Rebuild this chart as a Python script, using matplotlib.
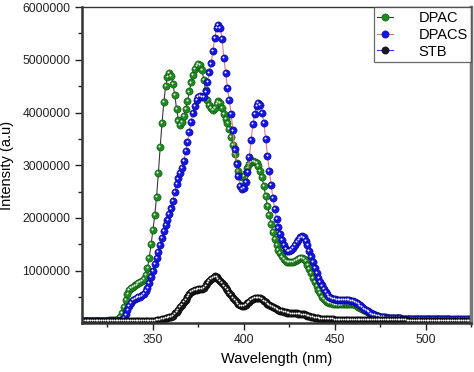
import numpy as np
import matplotlib
matplotlib.use("Agg")
import matplotlib.pyplot as plt
import matplotlib.transforms as mtransforms
from matplotlib.ticker import MultipleLocator, FixedLocator, FuncFormatter
from matplotlib.legend_handler import HandlerTuple
from matplotlib.lines import Line2D

plt.rcParams['font.family'] = ['Liberation Sans', 'DejaVu Sans']

wavelength = list(range(310, 526))

# intensities in millions (a.u.)
dpac = [
    0.05,0.05,0.05,0.05,0.05,0.05,0.05,0.05,0.05,0.05,
    0.05,0.05,0.05,0.05,0.05,0.05,0.06,0.06,0.06,0.06,
    0.07,0.09,0.13,0.20,0.32,0.45,0.56,0.63,0.68,0.70,
    0.72,0.74,0.76,0.78,0.81,0.85,0.92,1.05,1.25,1.50,
    1.78,2.05,2.40,2.85,3.35,3.80,4.20,4.50,4.68,4.75,
    4.70,4.55,4.33,4.07,3.85,3.77,3.82,3.93,4.07,4.22,
    4.40,4.57,4.71,4.82,4.89,4.92,4.90,4.80,4.62,4.42,
    4.24,4.14,4.08,4.05,4.08,4.17,4.21,4.18,4.08,3.97,
    3.88,3.80,3.68,3.54,3.39,3.22,3.05,2.90,2.80,2.77,
    2.79,2.86,2.95,3.02,3.06,3.08,3.07,3.04,2.98,2.90,
    2.77,2.60,2.42,2.23,2.05,1.88,1.73,1.60,1.49,1.40,
    1.33,1.27,1.22,1.19,1.17,1.16,1.16,1.17,1.19,1.21,
    1.23,1.25,1.25,1.23,1.18,1.11,1.03,0.95,0.87,0.79,
    0.71,0.63,0.57,0.51,0.47,0.43,0.41,0.39,0.38,0.37,
    0.36,0.36,0.36,0.36,0.36,0.37,0.37,0.37,0.37,0.37,
    0.36,0.35,0.34,0.32,0.30,0.27,0.25,0.23,0.21,0.20,
    0.18,0.17,0.16,0.15,0.14,0.13,0.13,0.12,0.12,0.11,
    0.11,0.11,0.10,0.10,0.10,0.10,0.10,0.09,0.09,0.09,
    0.09,0.09,0.09,0.09,0.08,0.08,0.08,0.08,0.08,0.08,
    0.08,0.08,0.08,0.08,0.08,0.08,0.08,0.08,0.08,0.08,
    0.08,0.08,0.08,0.07,0.07,0.07,0.07,0.07,0.07,0.07,
    0.07,0.07,0.07,0.07,0.07,0.07,
]

dpacs = [
    0.05,0.05,0.05,0.05,0.05,0.05,0.05,0.05,0.05,0.05,
    0.05,0.05,0.05,0.05,0.05,0.05,0.05,0.05,0.05,0.05,
    0.05,0.05,0.06,0.07,0.10,0.17,0.25,0.33,0.39,0.44,
    0.47,0.49,0.50,0.51,0.53,0.56,0.61,0.68,0.77,0.88,
    1.00,1.12,1.24,1.36,1.49,1.62,1.75,1.87,1.97,2.07,
    2.18,2.33,2.50,2.64,2.75,2.85,2.95,3.08,3.27,3.45,
    3.63,3.82,3.99,4.13,4.23,4.29,4.31,4.29,4.30,4.40,
    4.58,4.76,4.93,5.17,5.42,5.60,5.66,5.60,5.40,5.03,
    4.75,4.47,4.23,3.98,3.66,3.30,3.02,2.80,2.60,2.55,
    2.57,2.68,2.87,3.15,3.48,3.78,3.98,4.12,4.19,4.15,
    4.00,3.80,3.50,3.18,2.90,2.62,2.38,2.17,1.98,1.82,
    1.70,1.58,1.49,1.42,1.38,1.37,1.39,1.43,1.48,1.54,
    1.59,1.63,1.65,1.63,1.57,1.48,1.38,1.27,1.16,1.06,
    0.96,0.87,0.79,0.72,0.65,0.59,0.55,0.51,0.48,0.47,
    0.46,0.45,0.44,0.44,0.44,0.44,0.44,0.44,0.44,0.43,
    0.42,0.41,0.39,0.37,0.34,0.31,0.28,0.26,0.23,0.21,
    0.19,0.17,0.16,0.15,0.14,0.13,0.12,0.12,0.11,0.11,
    0.11,0.10,0.10,0.10,0.10,0.10,0.10,0.09,0.09,0.09,
    0.09,0.09,0.09,0.09,0.09,0.09,0.09,0.09,0.09,0.09,
    0.09,0.09,0.08,0.08,0.08,0.08,0.08,0.08,0.08,0.08,
    0.08,0.08,0.08,0.08,0.08,0.08,0.08,0.08,0.08,0.08,
    0.08,0.08,0.08,0.08,0.08,0.08,
]

stb = [
    0.04,0.04,0.04,0.04,0.04,0.04,0.04,0.04,0.04,0.04,
    0.04,0.04,0.04,0.04,0.04,0.04,0.04,0.04,0.04,0.04,
    0.04,0.04,0.04,0.04,0.04,0.04,0.04,0.04,0.04,0.04,
    0.04,0.04,0.04,0.04,0.04,0.04,0.04,0.04,0.04,0.04,
    0.05,0.05,0.06,0.06,0.07,0.08,0.09,0.10,0.11,0.12,
    0.13,0.15,0.19,0.22,0.26,0.31,0.35,0.40,0.45,0.50,
    0.55,0.59,0.61,0.63,0.64,0.65,0.65,0.66,0.68,0.72,
    0.76,0.80,0.84,0.87,0.89,0.88,0.85,0.81,0.77,0.72,
    0.68,0.63,0.58,0.54,0.49,0.45,0.41,0.37,0.34,0.33,
    0.33,0.35,0.38,0.41,0.44,0.46,0.48,0.49,0.49,0.48,
    0.46,0.43,0.40,0.37,0.35,0.33,0.31,0.29,0.27,0.26,
    0.24,0.23,0.22,0.21,0.20,0.20,0.19,0.19,0.19,0.19,
    0.18,0.18,0.17,0.17,0.16,0.15,0.14,0.13,0.12,0.11,
    0.10,0.10,0.09,0.09,0.09,0.08,0.08,0.08,0.08,0.08,
    0.07,0.07,0.07,0.07,0.07,0.07,0.07,0.07,0.07,0.07,
    0.06,0.06,0.06,0.06,0.06,0.06,0.06,0.06,0.06,0.06,
    0.06,0.06,0.06,0.06,0.06,0.06,0.06,0.06,0.06,0.06,
    0.06,0.06,0.06,0.06,0.06,0.06,0.06,0.06,0.06,0.06,
    0.05,0.05,0.05,0.05,0.05,0.05,0.05,0.05,0.05,0.05,
    0.05,0.05,0.05,0.05,0.05,0.05,0.05,0.05,0.05,0.05,
    0.05,0.05,0.05,0.05,0.05,0.05,0.05,0.05,0.05,0.05,
    0.05,0.05,0.05,0.05,0.05,0.05,
]

series_names = ["DPAC", "DPACS", "STB"]
marker_colors = ["#1f8a1f", "#1515e6", "#1a1a1a"]
edge_colors = ["#0d4d0d", "#07077a", "#000000"]
line_colors = ["#3a3a3a", "#e07a7a", "#3a3af0"]
scale = 1e6

fig = plt.figure(figsize=(4.74, 3.72), dpi=100)
ax = fig.add_axes([0.173, 0.132, 0.821, 0.849])

x = np.array(wavelength)
hl_trans = mtransforms.offset_copy(ax.transData, fig=fig, x=-0.9, y=0.9, units='dots')
handles = []
for name, vals, mc, ec, lc in zip(series_names, [dpac, dpacs, stb], marker_colors, edge_colors, line_colors):
    y = np.array(vals) * scale
    ln, = ax.plot(x, y, '-', color=lc, lw=0.8, marker='o', ms=5.2,
                  mfc=mc, mec=ec, mew=0.4, label=name)
    ax.plot(x, y, 'o', ms=1.4, mfc='white', mec='none', transform=hl_trans)
    hl = Line2D([], [], ls='none', marker='o', ms=1.4, mfc='white', mec='none')
    handles.append((ln, hl))

ax.set_xlim(311, 525)
ax.set_ylim(1e4, 6e6)
ax.xaxis.set_major_locator(FixedLocator([350, 400, 450, 500]))
ax.xaxis.set_minor_locator(FixedLocator([325, 375, 425, 475, 525]))
ax.yaxis.set_major_locator(FixedLocator([1e6, 2e6, 3e6, 4e6, 5e6, 6e6]))
ax.yaxis.set_minor_locator(FixedLocator([0.5e6, 1.5e6, 2.5e6, 3.5e6, 4.5e6, 5.5e6]))
ax.yaxis.set_major_formatter(FuncFormatter(lambda v, p: f"{int(round(v))}"))

ax.tick_params(which='major', direction='out', length=5, width=1.0, labelsize=8.7,
               colors='#222222', top=False, right=False)
ax.tick_params(which='minor', direction='out', length=3, width=1.0, top=False, right=False,
               colors='#222222')
ax.tick_params(axis='x', pad=3)

for side, lw, col in [('left', 1.8, '#333333'), ('bottom', 1.8, '#333333'),
                      ('top', 1.0, '#333333'), ('right', 2.5, '#777777')]:
    ax.spines[side].set_linewidth(lw)
    ax.spines[side].set_color(col)

ax.set_xlabel("Wavelength (nm)", fontsize=10.5, labelpad=4)
ax.set_ylabel("Intensity (a.u)", fontsize=10.5, labelpad=6)

leg = ax.legend(handles, series_names, handler_map={tuple: HandlerTuple(ndivide=None)},
                loc='upper right', borderaxespad=0.0, fontsize=10.5, frameon=True,
                fancybox=False, edgecolor='#444444', handlelength=2.4,
                handletextpad=0.4, labelspacing=0.2, borderpad=0.25)
leg.get_frame().set_linewidth(0.9)

fig.savefig("out.png", dpi=100)
